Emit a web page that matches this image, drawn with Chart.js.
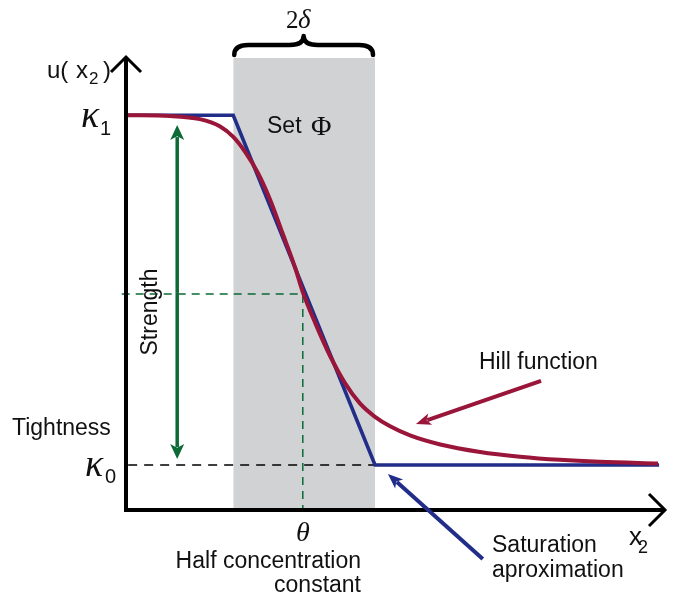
<!DOCTYPE html>
<html>
<head>
<meta charset="utf-8">
<script src="https://cdn.jsdelivr.net/npm/chart.js@4.4.0/dist/chart.umd.min.js"></script>
<style>
    html, body { margin: 0; padding: 0; background: #ffffff; }
    #contenedor { width: 683px; height: 602px; position: relative; }
</style>
</head>
<body>
<div id="contenedor"><canvas id="chartHill"></canvas></div>
<script>
// Curva de Hill
const hillX = [0.2, 8.2, 13.7, 17.4, 19.9, 22.1, 24.5, 26.7, 29.1, 31.4, 32.8, 35.1, 37.8, 40.6, 43.4, 46.2, 49.0, 52.7, 58.3, 65.7, 73.1, 80.5, 87.9, 98.7];
const hillY = [1.000, 0.998, 0.990, 0.972, 0.945, 0.907, 0.853, 0.787, 0.699, 0.613, 0.552, 0.474, 0.392, 0.322, 0.270, 0.236, 0.212, 0.189, 0.166, 0.147, 0.135, 0.127, 0.122, 0.118];

// Aproximacion por saturacion
const satX = [0.2, 19.9, 46.2, 98.9];
const satY = [1.0, 1.0, 0.114, 0.114];

// Conjunto Phi (ancho 2 delta)
const bandX = [19.9, 46.2];
const bandY = [1.145, 1.145];

// Niveles de referencia
const kappa1 = 1.0;
const kappa0 = 0.114;
const theta = 32.8;
const halfLevel = 0.547;
const strengthX = 9.5;
const strengthY = [0.975, 0.129];

const xRange = [0, 100];
const yRange = [0, 1.15];

const ROJO = '#991539';
const AZUL = '#212d88';
const VERDE = '#0b6a36';
const GRIS = '#d1d2d4';
const SANS = '"Liberation Sans", Arial, sans-serif';
const SERIF = '"Liberation Serif", "Times New Roman", serif';

const toPoints = (xs, ys) => xs.map((x, i) => ({ x: x, y: ys[i] }));

// Flecha con punta rellena
const flecha = (ctx, x1, y1, x2, y2, color, ancho, largo, abertura) => {
    const ang = Math.atan2(y2 - y1, x2 - x1);
    const bx = x2 - Math.cos(ang) * largo * 0.8;
    const by = y2 - Math.sin(ang) * largo * 0.8;
    ctx.save();
    ctx.strokeStyle = color;
    ctx.fillStyle = color;
    ctx.lineWidth = ancho;
    ctx.lineCap = 'butt';
    ctx.beginPath();
    ctx.moveTo(x1, y1);
    ctx.lineTo(bx, by);
    ctx.stroke();
    ctx.beginPath();
    ctx.moveTo(x2, y2);
    ctx.lineTo(x2 - Math.cos(ang) * largo + Math.sin(ang) * abertura, y2 - Math.sin(ang) * largo - Math.cos(ang) * abertura);
    ctx.lineTo(x2 - Math.cos(ang) * largo * 0.75, y2 - Math.sin(ang) * largo * 0.75);
    ctx.lineTo(x2 - Math.cos(ang) * largo - Math.sin(ang) * abertura, y2 - Math.sin(ang) * largo + Math.cos(ang) * abertura);
    ctx.closePath();
    ctx.fill();
    ctx.restore();
};

const texto = (ctx, str, x, y, font, align) => {
    ctx.font = font;
    ctx.textAlign = align || 'left';
    ctx.textBaseline = 'alphabetic';
    ctx.fillText(str, x, y);
};

// Plugin: ejes, llave, flechas y rotulos
const dibujoEsquema = {
    id: 'dibujoEsquema',
    afterDatasetsDraw(chart) {
        const ctx = chart.ctx;
        const sx = chart.scales.x;
        const sy = chart.scales.y;
        const x0 = sx.getPixelForValue(0);
        const y0 = sy.getPixelForValue(0);
        const xEnd = sx.getPixelForValue(xRange[1]);
        const yTop = sy.getPixelForValue(yRange[1]) + 1;

        ctx.save();
        ctx.fillStyle = '#000';
        ctx.strokeStyle = '#000';

        // Ejes
        ctx.lineWidth = 4;
        ctx.lineCap = 'butt';
        ctx.beginPath();
        ctx.moveTo(x0, y0 + 2);
        ctx.lineTo(x0, yTop + 1);
        ctx.moveTo(x0 - 2, y0);
        ctx.lineTo(xEnd - 1, y0);
        ctx.stroke();
        ctx.lineWidth = 3;
        ctx.lineJoin = 'miter';
        ctx.beginPath();
        ctx.moveTo(x0 - 15, yTop + 15);
        ctx.lineTo(x0, yTop);
        ctx.lineTo(x0 + 15, yTop + 15);
        ctx.moveTo(xEnd - 16, y0 - 16);
        ctx.lineTo(xEnd, y0);
        ctx.lineTo(xEnd - 16, y0 + 16);
        ctx.stroke();

        // Llave 2 delta
        const bL = sx.getPixelForValue(bandX[0]) + 1;
        const bR = sx.getPixelForValue(bandX[1]) - 2;
        const bM = (bL + bR) / 2;
        const yE = 55, yM = 45, yP = 36, r = 14;
        ctx.lineWidth = 4.5;
        ctx.lineCap = 'round';
        ctx.lineJoin = 'round';
        ctx.beginPath();
        ctx.moveTo(bL, yE);
        ctx.quadraticCurveTo(bL, yM, bL + r, yM);
        ctx.lineTo(bM - r, yM);
        ctx.quadraticCurveTo(bM, yM, bM, yP);
        ctx.quadraticCurveTo(bM, yM, bM + r, yM);
        ctx.lineTo(bR - r, yM);
        ctx.quadraticCurveTo(bR, yM, bR, yE);
        ctx.stroke();

        // Flecha doble de intensidad
        const gx = sx.getPixelForValue(strengthX);
        const gTop = sy.getPixelForValue(strengthY[0]);
        const gBot = sy.getPixelForValue(strengthY[1]);
        const gMid = (gTop + gBot) / 2;
        flecha(ctx, gx, gMid, gx, gTop, VERDE, 3.5, 15, 7);
        flecha(ctx, gx, gMid, gx, gBot, VERDE, 3.5, 15, 7);

        // Flechas de anotacion
        flecha(ctx, sx.getPixelForValue(77.0), sy.getPixelForValue(0.327),
               sx.getPixelForValue(53.8), sy.getPixelForValue(0.218), ROJO, 4, 15, 6);
        flecha(ctx, sx.getPixelForValue(66.2), sy.getPixelForValue(-0.124),
               sx.getPixelForValue(48.6), sy.getPixelForValue(0.091), AZUL, 4, 15, 6);

        // Rotulos
        ctx.fillStyle = '#111';
        texto(ctx, 'u(', 47, 78, '24px ' + SANS);
        texto(ctx, 'x', 76, 78, '24px ' + SANS);
        texto(ctx, '2', 89, 84, '17px ' + SANS);
        texto(ctx, ')', 103, 78, '24px ' + SANS);

        texto(ctx, '\u03BA', 81, 127, 'italic 38px ' + SERIF);
        texto(ctx, '1', 100, 135, '20px ' + SANS);
        texto(ctx, '\u03BA', 85, 476, 'italic 38px ' + SERIF);
        texto(ctx, '0', 105, 483, '20px ' + SANS);

        texto(ctx, '2', 286, 28, '25px ' + SERIF);
        texto(ctx, '\u03B4', 298, 28, 'italic 27px ' + SERIF);

        texto(ctx, 'Set', 267, 133, '23px ' + SANS);
        texto(ctx, '\u03A6', 311, 135, '28px ' + SERIF);

        texto(ctx, 'Tightness', 12, 435, '23px ' + SANS);

        ctx.save();
        ctx.translate(157, 312);
        ctx.rotate(-Math.PI / 2);
        texto(ctx, 'Strength', 0, 0, '23px ' + SANS, 'center');
        ctx.restore();

        texto(ctx, 'Hill function', 479, 369, '23px ' + SANS);

        texto(ctx, '\u03B8', sx.getPixelForValue(theta), 541, 'italic 28px ' + SERIF, 'center');
        texto(ctx, 'Half concentration', 361, 568, '23px ' + SANS, 'right');
        texto(ctx, 'constant', 361, 592, '23px ' + SANS, 'right');

        texto(ctx, 'Saturation', 492, 552, '23px ' + SANS);
        texto(ctx, 'aproximation', 492, 577, '23px ' + SANS);

        texto(ctx, 'x', 629, 545, '26px ' + SANS);
        texto(ctx, '2', 638, 553, '18px ' + SANS);

        ctx.restore();
    }
};

const ctx = document.getElementById('chartHill').getContext('2d');

const chartHill = new Chart(ctx, {
    type: 'line',
    data: {
        datasets: [
            {
                label: 'Hill function',
                data: toPoints(hillX, hillY),
                borderColor: ROJO,
                borderWidth: 4,
                pointRadius: 0,
                cubicInterpolationMode: 'monotone',
                fill: false,
                order: 0
            },
            {
                label: 'Saturation aproximation',
                data: toPoints(satX, satY),
                borderColor: AZUL,
                borderWidth: 3.6,
                pointRadius: 0,
                tension: 0,
                fill: false,
                order: 1
            },
            {
                label: 'Half concentration',
                data: [{ x: -0.8, y: halfLevel }, { x: theta, y: halfLevel }, { x: theta, y: 0 }],
                borderColor: VERDE,
                borderWidth: 1.5,
                borderDash: [8, 6],
                pointRadius: 0,
                fill: false,
                clip: false,
                order: 2
            },
            {
                label: 'kappa0',
                data: [{ x: 0.4, y: kappa0 }, { x: bandX[1], y: kappa0 }],
                borderColor: '#000',
                borderWidth: 1.5,
                borderDash: [9, 7],
                pointRadius: 0,
                fill: false,
                order: 3
            },
            {
                label: 'Set Phi',
                data: toPoints(bandX, bandY),
                borderWidth: 0,
                borderColor: 'rgba(0,0,0,0)',
                backgroundColor: GRIS,
                pointRadius: 0,
                fill: 'origin',
                order: 4
            }
        ]
    },
    options: {
        responsive: true,
        maintainAspectRatio: false,
        animation: false,
        events: [],
        layout: {
            padding: { left: 126, right: 18, top: 56, bottom: 92 }
        },
        plugins: {
            legend: { display: false },
            tooltip: { enabled: false },
            title: { display: false }
        },
        scales: {
            x: { type: 'linear', min: xRange[0], max: xRange[1], display: false },
            y: { type: 'linear', min: yRange[0], max: yRange[1], display: false }
        }
    },
    plugins: [dibujoEsquema]
});
</script>
</body>
</html>
